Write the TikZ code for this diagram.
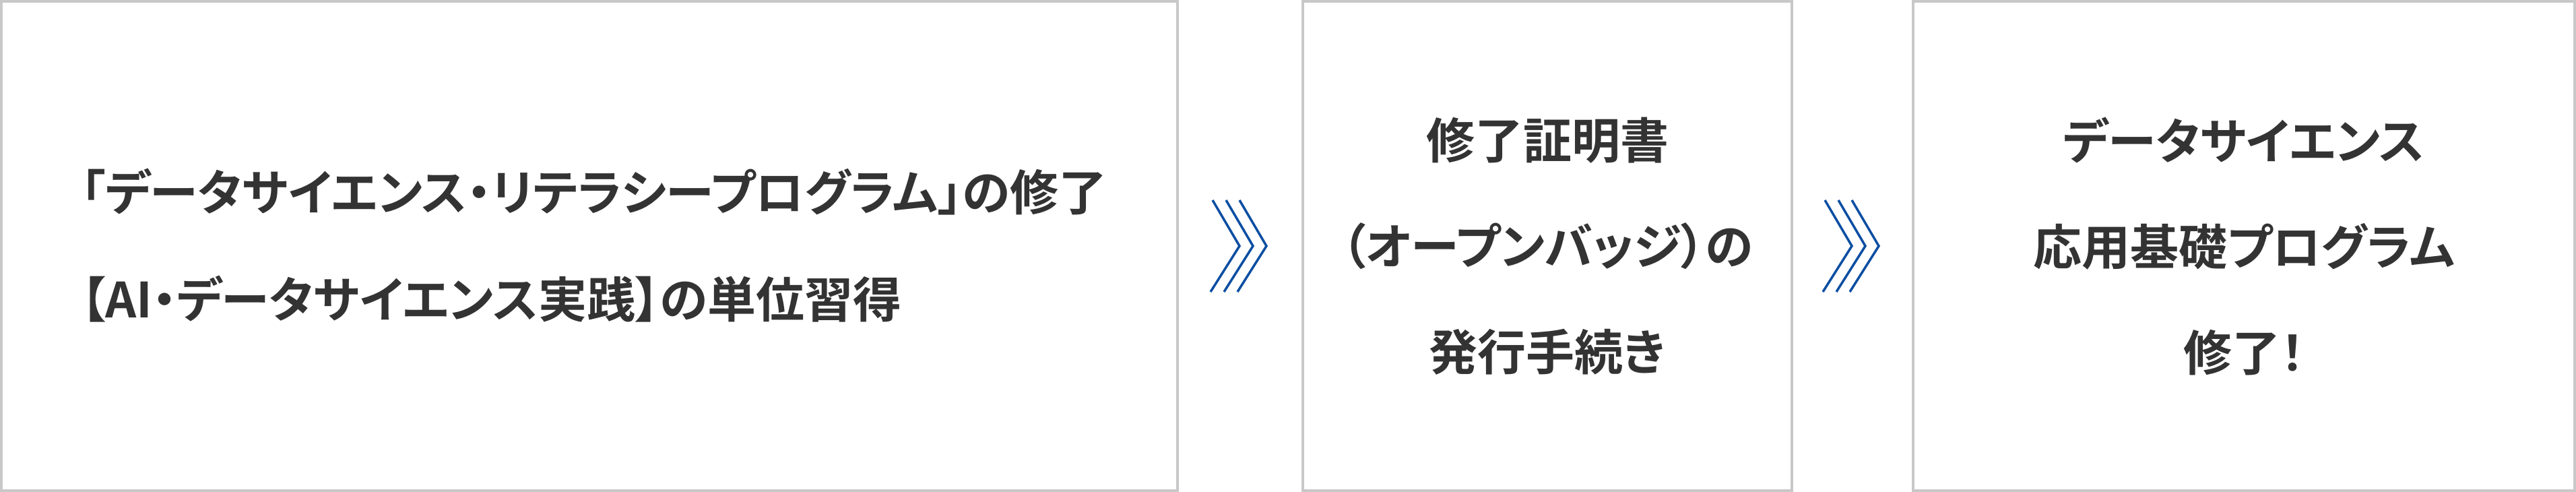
\documentclass[tikz,border=0pt]{standalone}
\usepackage{fontspec}
\usepackage{xcolor}
\usepackage{tikz}
\usetikzlibrary{calc}

\newfontfamily\jpfont[RawFeature=+palt]{Noto Sans CJK JP Bold}
\definecolor{boxgray}{HTML}{C8C8C8}
\definecolor{textgray}{HTML}{333333}
\definecolor{chevblue}{HTML}{0B4EA2}

\begin{document}
\begin{tikzpicture}[x=1pt, y=1pt,
		stepbox/.style={draw=boxgray, line width=4pt, fill=white, inner sep=0pt, minimum height=726pt},
		steptext/.style={text=textgray, inner sep=0pt, font=\jpfont\fontsize{72}{157}\selectfont},
		chevron/.style={draw=chevblue, line width=3.5pt}]
					\def\W{3824};
					\def\H{730};
					
					\useasboundingbox (0,0) rectangle (\W,\H);
					
					\begin{scope}
						\node [stepbox, minimum width=1746pt] (b1) at (875,365) {};
						\node [stepbox, minimum width=726pt] (b2) at (2297,365) {};
						\node [stepbox, minimum width=982pt] (b3) at (3331,365) {};
					\end{scope}
					
					\begin{scope}
						\node [steptext, align=left, anchor=west, font=\jpfont\fontsize{72}{159}\selectfont] (t1) at ($ (b1.west) + (120,1) $) {「データサイエンス・リテラシープログラム」の修了\\【AI・データサイエンス実践】の単位習得};
						\node [steptext, align=center] (t2) at (b2.center) {修了証明書\\（オープンバッジ）の\\発行手続き};
						\node [steptext, align=center] (t3) at (b3.center) {データサイエンス\\応用基礎プログラム\\修了！};
					\end{scope}
					
					\coordinate (g1) at ($ (b1.east)!0.5!(b2.west) $);
					\coordinate (g2) at ($ (b2.east)!0.5!(b3.west) $);
					
					\begin{scope}
						\foreach \g in {g1, g2} {
							\foreach \d in {0, 20, 40} {
								\draw [chevron] ($ (\g) + (-41+\d,68) $) -- ($ (\g) + (-1+\d,0) $) -- ($ (\g) + (-44+\d,-68) $);
							}
						}
					\end{scope}
				\end{tikzpicture}
\end{document}
